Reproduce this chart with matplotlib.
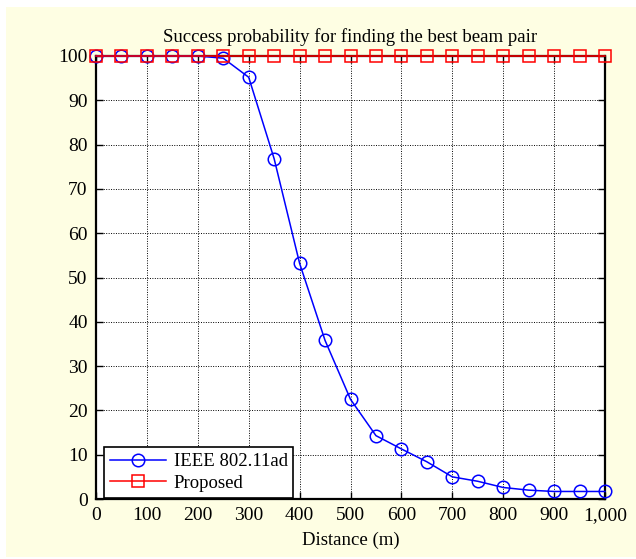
import matplotlib.pyplot as plt
from matplotlib.patches import Rectangle
from matplotlib.ticker import FuncFormatter

# distance (m)
distance = [0, 50, 100, 150, 200, 250, 300, 350, 400, 450, 500,
            550, 600, 650, 700, 750, 800, 850, 900, 950, 1000]
# success probability (%)
ieee = [100, 100, 100, 100, 100, 99.5, 95.2, 76.8, 53.2, 35.8, 22.5,
        14.3, 11.3, 8.4, 5.0, 4.0, 2.6, 2.0, 1.7, 1.7, 1.7]
proposed = [100] * 21

plt.rcParams['font.family'] = ['Liberation Serif', 'DejaVu Serif']
plt.rcParams['mathtext.fontset'] = 'stix'

fig = plt.figure(figsize=(6.36, 5.59), dpi=100)
fig.patch.set_facecolor('white')
# yellow background panel
fig.patches.append(Rectangle((6 / 636, 2 / 559), 630 / 636, 550 / 559,
                             transform=fig.transFigure, facecolor='#FEFEE3',
                             edgecolor='none', zorder=0))

ax = fig.add_axes([96 / 636, 1 - 499 / 559, 509 / 636, 443 / 559])
ax.set_zorder(2)
ax.set_facecolor('white')

ax.plot(distance, ieee, '-o', color='#0000FF', lw=1.1, ms=9, mfc='none',
        mew=1.1, label='IEEE 802.11ad', clip_on=False, zorder=4)
ax.plot(distance, proposed, '-s', color='#FF0000', lw=1.1, ms=8.5, mfc='none',
        mew=1.1, label='Proposed', clip_on=False, zorder=5)

ax.set_xlim(0, 1000)
ax.set_ylim(0, 100)
ax.set_xticks(range(0, 1001, 100))
ax.set_yticks(range(0, 101, 10))
ax.xaxis.set_major_formatter(FuncFormatter(lambda v, p: f'{int(v):,}'))

ax.grid(True, color='black', linestyle=(0, (1, 1.5)), linewidth=0.7)
ax.tick_params(direction='in', top=True, right=True, length=5, width=1,
               labelsize=14)
ax.tick_params(axis='x', pad=6)
ax.tick_params(axis='y', pad=6)
for s in ax.spines.values():
    s.set_linewidth(1.6)

ax.set_title('Success probability for finding the best beam pair',
             fontsize=13.5, pad=10)
ax.set_xlabel('Distance (m)', fontsize=13.5, labelpad=5)

leg = ax.legend(loc='lower left', fontsize=13.5, fancybox=False,
                framealpha=1, edgecolor='black', borderpad=0.3,
                handlelength=3.0, handletextpad=0.4, labelspacing=0.25,
                borderaxespad=0, bbox_to_anchor=(0.016, 0.003))
leg.get_frame().set_linewidth(1.2)

fig.savefig('out.png', dpi=100)
